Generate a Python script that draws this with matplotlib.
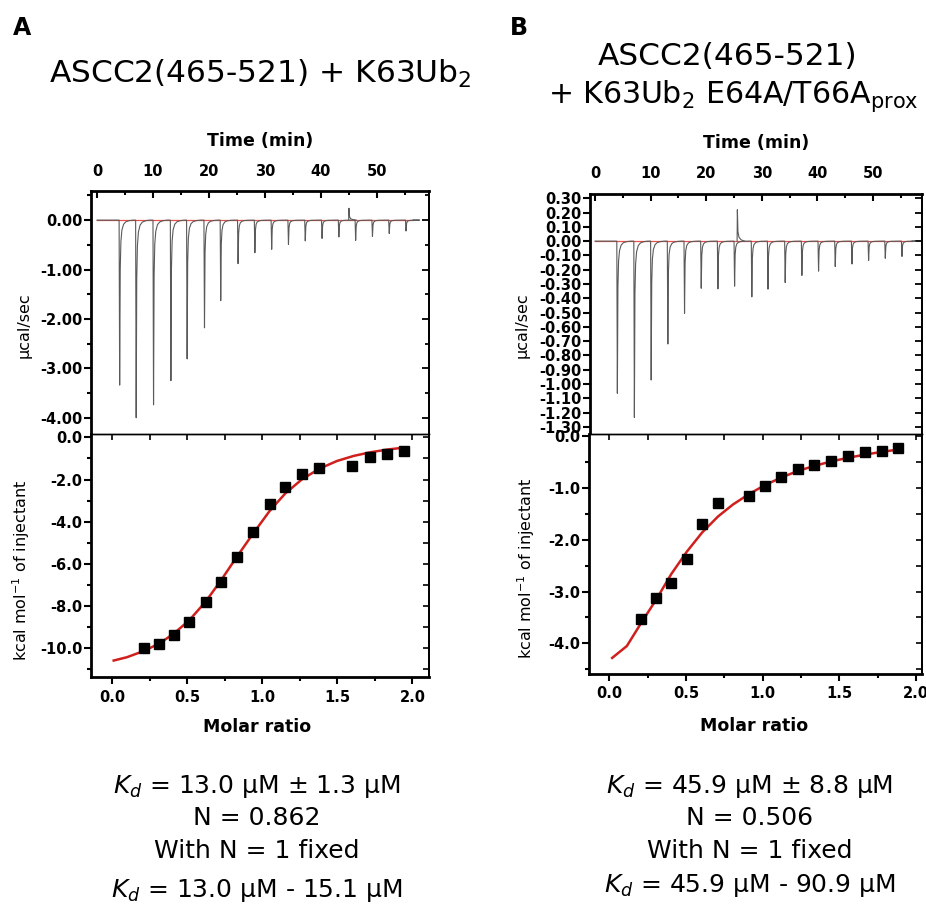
import matplotlib
matplotlib.use("Agg")
import matplotlib.pyplot as plt
from matplotlib.ticker import MultipleLocator, FormatStrFormatter

plt.rcParams["font.family"] = ["DejaVu Sans"]
plt.rcParams["mathtext.default"] = "regular"
plt.rcParams["axes.unicode_minus"] = False

# ---- data ----
# panel A raw thermogram: injection tip times (min) and tip heights (ucal/sec)
a_inj_time = [4.05, 7.0, 10.1, 13.2, 16.1, 19.2, 22.1, 25.2, 28.2, 31.2, 34.2,
              37.2, 40.2, 43.2, 46.2, 49.2, 52.2, 55.2]
a_inj_peak = [-3.34, -4.0, -3.74, -3.25, -2.81, -2.18, -1.63, -0.88, -0.66, -0.59,
              -0.49, -0.42, -0.37, -0.34, -0.41, -0.33, -0.27, -0.22]
a_spike_time, a_spike_peak = 45.0, 0.24
a_trace_end = 56.5

# panel A isotherm
a_ratio = [0.21, 0.313, 0.41, 0.514, 0.623, 0.725, 0.831, 0.938, 1.049, 1.153,
           1.264, 1.379, 1.60, 1.714, 1.829, 1.945]
a_heat = [-10.0, -9.78, -9.39, -8.73, -7.80, -6.84, -5.69, -4.50, -3.17, -2.37,
          -1.75, -1.47, -1.38, -0.95, -0.79, -0.63]
a_fit_x = [0.011, 0.10, 0.21, 0.313, 0.41, 0.514, 0.623, 0.725, 0.831, 0.938,
           1.049, 1.153, 1.264, 1.379, 1.497, 1.608, 1.718, 1.829, 1.951]
a_fit_y = [-10.58, -10.42, -10.13, -9.78, -9.31, -8.67, -7.79, -6.78, -5.66, -4.57,
           -3.49, -2.66, -1.99, -1.49, -1.12, -0.88, -0.71, -0.58, -0.48]

# panel B raw thermogram
b_inj_time = [4.02, 7.08, 10.1, 13.1, 16.1, 19.1, 22.1, 25.1, 28.2, 31.1, 34.2,
              37.2, 40.2, 43.2, 46.2, 49.2, 52.2, 55.2]
b_inj_peak = [-1.065, -1.234, -0.972, -0.72, -0.505, -0.33, -0.334, -0.315, -0.39,
              -0.336, -0.29, -0.24, -0.21, -0.178, -0.16, -0.135, -0.12, -0.107]
b_spike_time, b_spike_peak = 25.6, 0.22
b_trace_end = 57.0

# panel B isotherm
b_ratio = [0.208, 0.305, 0.405, 0.506, 0.606, 0.71, 0.911, 1.019, 1.123, 1.232,
           1.338, 1.446, 1.556, 1.669, 1.777, 1.885]
b_heat = [-3.53, -3.13, -2.84, -2.38, -1.69, -1.29, -1.154, -0.955, -0.78, -0.64,
          -0.55, -0.49, -0.39, -0.31, -0.286, -0.235]
b_fit_x = [0.019, 0.115, 0.201, 0.305, 0.405, 0.506, 0.606, 0.710, 0.807, 0.911,
           1.019, 1.123, 1.232, 1.338, 1.446, 1.556, 1.669, 1.777, 1.885]
b_fit_y = [-4.28, -4.05, -3.64, -3.16, -2.66, -2.23, -1.86, -1.55, -1.32, -1.12,
           -0.94, -0.80, -0.67, -0.576, -0.49, -0.42, -0.357, -0.305, -0.26]

# shape of one injection peak (offset from tip in min, fraction of tip height)
peak_dt = [-0.1, 0.0, 0.1, 0.22, 0.4, 0.7, 1.1, 1.7, 2.4]
peak_frac = [0.0, 1.0, 0.3, 0.13, 0.06, 0.025, 0.01, 0.003, 0.0]
spike_dt = [-0.05, 0.0, 0.1, 0.3, 0.7, 1.3]
spike_frac = [0.0, 1.0, 0.3, 0.12, 0.04, 0.0]

W, H = 926, 906
fig = plt.figure(figsize=(W / 100, H / 100), dpi=100)


def px_axes(l, t, r, b):
    return fig.add_axes([l / W, 1 - b / H, (r - l) / W, (b - t) / H])


def ftext(x, y, s, **kw):
    fig.text(x / W, 1 - y / H, s, **kw)


TICKFONT = dict(labelsize=10.5)
RED = "#d0201e"
TRACE = "#5a5a5a"


def build_trace(times, peaks):
    tx, ty = [0.0], [0.0]
    for t0, p in zip(times, peaks):
        for dt, f in zip(peak_dt, peak_frac):
            tx.append(t0 + dt)
            ty.append(p * f)
    return tx, ty


def raw_panel(ax, times, peaks, sp_t, sp_p, t_end, xlim, ylim, ymaj, ymin):
    tx, ty = build_trace(times, peaks)
    tx.append(t_end)
    ty.append(0.0)
    ax.plot([0, t_end], [0, 0], color="#e8504c", lw=0.9, zorder=1)
    ax.plot(tx, ty, color=TRACE, lw=0.8, zorder=2)
    ax.plot([sp_t + d for d in spike_dt], [sp_p * f for f in spike_frac],
            color=TRACE, lw=0.8, zorder=2)
    ax.set_xlim(*xlim)
    ax.set_ylim(*ylim)
    ax.xaxis.tick_top()
    ax.xaxis.set_major_locator(MultipleLocator(10))
    ax.xaxis.set_minor_locator(MultipleLocator(5))
    ax.yaxis.set_major_locator(MultipleLocator(ymaj))
    if ymin:
        ax.yaxis.set_minor_locator(MultipleLocator(ymin))
    ax.yaxis.set_major_formatter(FormatStrFormatter("%.2f"))
    ax.tick_params(axis="x", which="both", direction="in", top=True, bottom=False,
                   labeltop=True, labelbottom=False, pad=9, width=1.5)
    ax.tick_params(axis="x", which="major", length=5)
    ax.tick_params(axis="x", which="minor", length=3)
    ax.tick_params(axis="y", which="both", direction="out", left=True, right=False,
                   pad=1, width=1.5)
    ax.tick_params(axis="y", which="major", length=5)
    ax.tick_params(axis="y", which="minor", length=3)
    ax.tick_params(**TICKFONT)
    for lab in ax.get_xticklabels() + ax.get_yticklabels():
        lab.set_fontweight("bold")
    ax.spines["bottom"].set_visible(False)
    ax.spines["left"].set_linewidth(2.0)
    ax.spines["top"].set_linewidth(2.0)
    ax.spines["right"].set_linewidth(1.3)
    sec = ax.secondary_yaxis("right")
    sec.yaxis.set_major_locator(MultipleLocator(ymaj))
    if ymin:
        sec.yaxis.set_minor_locator(MultipleLocator(ymin))
    sec.tick_params(which="both", direction="in", labelright=False, width=1.3)
    sec.tick_params(which="major", length=5)
    sec.tick_params(which="minor", length=3)
    sec.spines["right"].set_linewidth(1.3)


def iso_panel(ax, rx, hy, fx, fy, xlim, ylim, ymaj, ymin):
    ax.plot(fx, fy, color=RED, lw=1.8, zorder=2)
    ax.plot(rx, hy, "s", color="black", ms=6.5, zorder=3)
    ax.set_xlim(*xlim)
    ax.set_ylim(*ylim)
    ax.xaxis.set_major_locator(MultipleLocator(0.5))
    ax.xaxis.set_minor_locator(MultipleLocator(0.25))
    ax.yaxis.set_major_locator(MultipleLocator(ymaj))
    ax.yaxis.set_minor_locator(MultipleLocator(ymin))
    ax.xaxis.set_major_formatter(FormatStrFormatter("%.1f"))
    ax.yaxis.set_major_formatter(FormatStrFormatter("%.1f"))
    ax.tick_params(axis="x", which="both", direction="out", top=False, pad=4, width=1.5)
    ax.tick_params(axis="y", which="both", direction="out", right=False, pad=1, width=1.5)
    ax.tick_params(which="major", length=5)
    ax.tick_params(which="minor", length=3)
    ax.tick_params(**TICKFONT)
    for lab in ax.get_xticklabels() + ax.get_yticklabels():
        lab.set_fontweight("bold")
    ax.spines["left"].set_linewidth(2.0)
    ax.spines["bottom"].set_linewidth(2.0)
    ax.spines["right"].set_linewidth(1.3)
    ax.spines["top"].set_linewidth(1.0)
    sx = ax.secondary_xaxis("top")
    sx.xaxis.set_major_locator(MultipleLocator(0.25))
    sx.tick_params(direction="in", labeltop=False, length=4, width=1.2)
    sx.spines["top"].set_linewidth(1.0)
    sy = ax.secondary_yaxis("right")
    sy.yaxis.set_major_locator(MultipleLocator(ymin))
    sy.tick_params(direction="in", labelright=False, length=4, width=1.2)
    sy.spines["right"].set_linewidth(1.3)


# ---- panel A ----
axA1 = px_axes(91, 191, 429, 434)
raw_panel(axA1, a_inj_time, a_inj_peak, a_spike_time, a_spike_peak, a_trace_end,
          (-1.07, 59.3), (-4.33, 0.59), 1.0, 0.5)
axA2 = px_axes(91, 434, 429, 677)
iso_panel(axA2, a_ratio, a_heat, a_fit_x, a_fit_y, (-0.14, 2.11), (-11.36, 0.16), 2.0, 1.0)

# ---- panel B ----
axB1 = px_axes(590, 194, 922, 434)
raw_panel(axB1, b_inj_time, b_inj_peak, b_spike_time, b_spike_peak, b_trace_end,
          (-0.9, 58.8), (-1.35, 0.33), 0.1, None)
axB2 = px_axes(589, 434, 922, 674)
iso_panel(axB2, b_ratio, b_heat, b_fit_x, b_fit_y, (-0.132, 2.04), (-4.59, 0.04), 1.0, 0.5)

# ---- axis labels ----
bold_lab = dict(fontsize=12.5, fontweight="bold", ha="center", va="center")
ftext(260, 141, "Time (min)", **bold_lab)
ftext(756, 143, "Time (min)", **bold_lab)
ftext(257, 727, "Molar ratio", **bold_lab)
ftext(754, 726, "Molar ratio", **bold_lab)
ylab = dict(fontsize=11.5, rotation=90, ha="center", va="center")
ftext(24, 325, "µcal/sec", **ylab)
ftext(522, 325, "µcal/sec", **ylab)
ftext(21, 570, r"kcal mol$^{-1}$ of injectant", **ylab)
ftext(526, 568, r"kcal mol$^{-1}$ of injectant", **ylab)

# ---- panel letters and titles ----
ftext(22, 28, "A", fontsize=17, fontweight="bold", ha="center", va="center")
ftext(519, 28, "B", fontsize=17, fontweight="bold", ha="center", va="center")
ftext(260, 83, "ASCC2(465-521) + K63Ub$_2$", fontsize=22.5, ha="center", va="baseline")
ftext(728, 65, "ASCC2(465-521)", fontsize=22.5, ha="center", va="baseline")
ftext(733, 103, "+ K63Ub$_2$ E64A/T66A$_{prox}$", fontsize=21.6, ha="center", va="baseline")

# ---- fit results ----
res = dict(fontsize=18, ha="center", va="baseline")
ftext(257, 793, r"$\mathit{K_d}$ = 13.0 µM ± 1.3 µM", **res)
ftext(257, 825, "N = 0.862", **res)
ftext(257, 858, "With N = 1 fixed", **res)
ftext(257, 897, r"$\mathit{K_d}$ = 13.0 µM - 15.1 µM", **res)
ftext(750, 793, r"$\mathit{K_d}$ = 45.9 µM ± 8.8 µM", **res)
ftext(750, 825, "N = 0.506", **res)
ftext(750, 858, "With N = 1 fixed", **res)
ftext(750, 892, r"$\mathit{K_d}$ = 45.9 µM - 90.9 µM", **res)

fig.savefig("out.png", dpi=100)
